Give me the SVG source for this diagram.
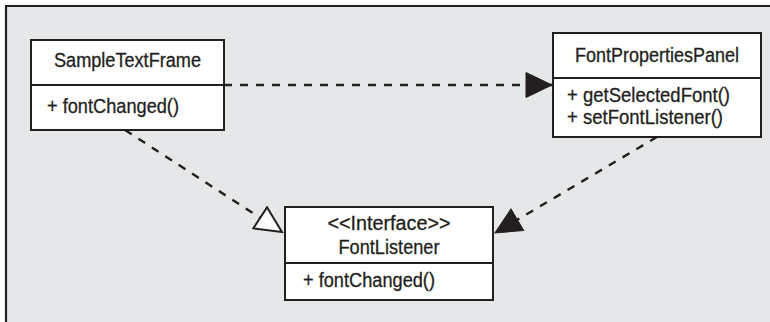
<svg xmlns="http://www.w3.org/2000/svg" width="770" height="322" viewBox="0 0 770 322">
<style>
.frame{fill:#e6e7e8;stroke:none}
.frameline{fill:none;stroke:#231f20;stroke-width:2.2}
.box{fill:#ffffff;stroke:#231f20;stroke-width:2}
.div{stroke:#231f20;stroke-width:2}
text{font-family:"Liberation Sans",Arial,sans-serif;font-size:20px;fill:#231f20;stroke:#231f20;stroke-width:0.3}
.c{text-anchor:middle}
.dep{fill:none;stroke:#231f20;stroke-width:2.4;stroke-dasharray:8 8}
</style>
<defs>
<marker id="filled" markerUnits="userSpaceOnUse" viewBox="-1 -1 28 27" refX="26" refY="12.5" markerWidth="28" markerHeight="27" orient="auto">
<path d="M0,0 L26,12.5 L0,25 Z" fill="#231f20" stroke="#231f20" stroke-width="1" stroke-dasharray="none"/>
</marker>
<marker id="hollow" markerUnits="userSpaceOnUse" viewBox="-2 -2 30 29" refX="26" refY="12.5" markerWidth="30" markerHeight="29" orient="auto">
<path d="M0,0 L26,12.5 L0,25 Z" fill="#ffffff" stroke="#231f20" stroke-width="2" stroke-dasharray="none" stroke-linejoin="miter"/>
</marker>
</defs>
<rect class="frame" x="6" y="6" width="764" height="316"/>
<path class="frameline" d="M6,322 V6 H770"/>
<g id="connectors">
<line class="dep" x1="224" y1="85" x2="552" y2="85" marker-end="url(#filled)"/>
<line class="dep" x1="125" y1="130" x2="282" y2="232" marker-end="url(#hollow)"/>
<line class="dep" x1="657" y1="137" x2="495" y2="233" marker-end="url(#filled)"/>
</g>
<g id="SampleTextFrame">
<rect class="box" x="31" y="40" width="193" height="90"/>
<line class="div" x1="31" y1="85" x2="224" y2="85"/>
<text class="c" x="127.5" y="67" textLength="147" lengthAdjust="spacingAndGlyphs">SampleTextFrame</text>
<text x="47" y="113" textLength="132" lengthAdjust="spacingAndGlyphs">+ fontChanged()</text>
</g>
<g id="FontPropertiesPanel">
<rect class="box" x="553" y="33" width="208" height="104"/>
<line class="div" x1="553" y1="78" x2="761" y2="78"/>
<text class="c" x="657" y="62" textLength="164" lengthAdjust="spacingAndGlyphs">FontPropertiesPanel</text>
<text x="567" y="102" textLength="163" lengthAdjust="spacingAndGlyphs">+ getSelectedFont()</text>
<text x="567" y="124" textLength="156" lengthAdjust="spacingAndGlyphs">+ setFontListener()</text>
</g>
<g id="FontListener">
<rect class="box" x="285" y="207" width="208" height="93"/>
<line class="div" x1="285" y1="263" x2="493" y2="263"/>
<text class="c" x="389" y="230" textLength="123" lengthAdjust="spacingAndGlyphs">&lt;&lt;Interface&gt;&gt;</text>
<text class="c" x="389" y="254" textLength="101" lengthAdjust="spacingAndGlyphs">FontListener</text>
<text x="303" y="287" textLength="132" lengthAdjust="spacingAndGlyphs">+ fontChanged()</text>
</g>
</svg>
